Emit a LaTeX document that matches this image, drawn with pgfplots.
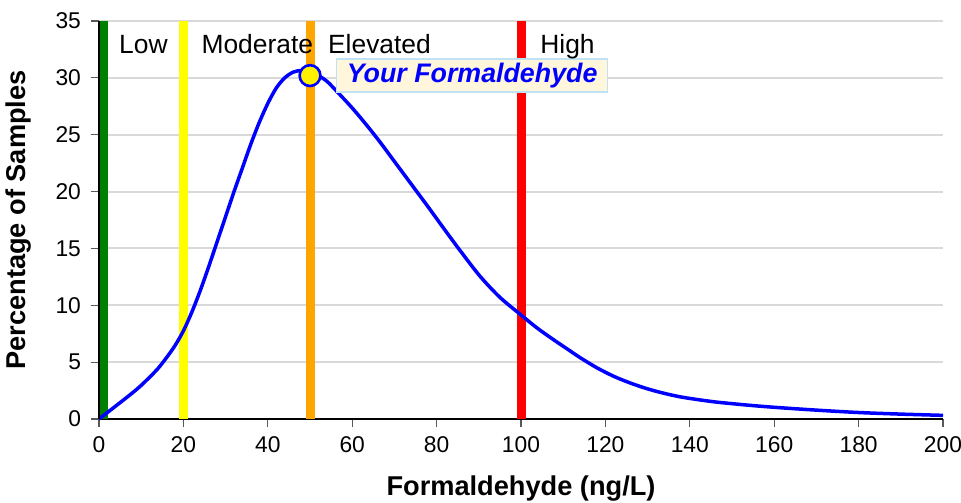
\documentclass[border=0pt]{standalone}
\usepackage{fontspec}
\setmainfont{Liberation Sans}
\usepackage{pgfplots}
\pgfplotsset{compat=1.18}
\definecolor{gridgray}{HTML}{D9D9D9}
\definecolor{lowgreen}{HTML}{008000}
\definecolor{modyellow}{HTML}{FFFF00}
\definecolor{elevorange}{HTML}{FFA500}
\definecolor{highred}{HTML}{FF0000}
\definecolor{curveblue}{HTML}{0000FF}
\definecolor{boxfill}{HTML}{FFF6DC}
\definecolor{boxdraw}{HTML}{BFE3F5}
\begin{document}
\begin{tikzpicture}
\begin{axis}[
  name=ax,
  scale only axis, width=422pt, height=199pt,
  xmin=0, xmax=200, ymin=0, ymax=35,
  xtick={0,20,...,200}, ytick={0,5,...,35},
  axis lines*=left,
  ymajorgrids,
  major grid style={gridgray, line width=1pt},
  tick align=outside, major tick length=4pt,
  tick style={color=black!65, line width=0.6pt},
  axis line style={black, line width=1pt},
  ticklabel style={font=\fontsize{11.4}{13}\selectfont},
  /pgf/number format/assume math mode=true,
  xticklabel style={yshift=-1.5pt},
  yticklabel style={xshift=-1.5pt},
  xlabel={Formaldehyde (ng/L)},
  ylabel={Percentage of Samples},
  xlabel style={at={(axis description cs:0.5,0)}, anchor=north, yshift=-28pt, inner sep=0pt, font=\fontsize{13.6}{16}\selectfont\bfseries},
  ylabel style={at={(axis description cs:-0.0794,0.5)}, anchor=south, inner sep=0pt, font=\fontsize{13.6}{16}\selectfont\bfseries},
  clip=false,
]
\addplot[lowgreen, line width=4.5pt] coordinates {(1,0) (1,35)};
\addplot[modyellow, line width=4.5pt] coordinates {(20,0) (20,35)};
\addplot[elevorange, line width=4.5pt] coordinates {(50,0) (50,35)};
\addplot[highred, line width=4.5pt] coordinates {(100,0) (100,35)};
\addplot[curveblue, line width=1.75pt, smooth, tension=0.5] coordinates {
(0,0) (4,1.15) (8,2.32) (10,2.96) (12,3.68) (14,4.45) (16,5.4) (18,6.45) (20,7.75)
(22,9.4) (24,11.3) (26,13.4) (28,15.6) (30,17.8) (32,20.0) (34,22.1) (36,24.2)
(38,26.1) (40,27.75) (42,29.1) (44,30.0) (46,30.5) (48,30.65) (50,30.5) (52,30.2)
(54,29.7) (56,28.95) (60,27.35) (63.4,25.85) (66.6,24.35) (70,22.65) (74.5,20.4)
(78,18.65) (82.4,16.4) (86,14.6) (90.3,12.55) (95,10.7) (100,9.15) (104,7.95)
(108,6.9) (111,6.15) (114,5.4) (118,4.5) (122,3.75) (126,3.15) (130,2.65)
(134,2.25) (138,1.93) (142,1.7) (146,1.5) (150,1.35) (154,1.21) (160,1.03)
(170,0.78) (180,0.57) (190,0.43) (200,0.32)
};
\addplot[only marks, mark=*, mark size=5.2pt, mark options={fill=yellow, draw=curveblue, line width=1.3pt}] coordinates {(50,30.2)};
\draw[black, line width=1pt] (rel axis cs:0,0) -- (rel axis cs:0,1);
\node[anchor=west, fill=boxfill, draw=boxdraw, line width=0.6pt, inner xsep=5pt, inner ysep=2pt, text=curveblue, font=\fontsize{13.4}{15}\selectfont\bfseries\itshape] at (axis cs:56.2,30.2) {Your Formaldehyde};
\node[anchor=base west, inner sep=0pt, font=\fontsize{13.2}{15}\selectfont] at (axis cs:4.7,32.15) {Low};
\node[anchor=base west, inner sep=0pt, font=\fontsize{13.2}{15}\selectfont] at (axis cs:24.2,32.15) {Moderate};
\node[anchor=base west, inner sep=0pt, font=\fontsize{13.2}{15}\selectfont] at (axis cs:54.2,32.15) {Elevated};
\node[anchor=base west, inner sep=0pt, font=\fontsize{13.2}{15}\selectfont] at (axis cs:104.5,32.15) {High};
\end{axis}
\pgfresetboundingbox
\path[use as bounding box] ([xshift=-49.5pt,yshift=-41.5pt]ax.south west) rectangle ([xshift=9pt,yshift=10.5pt]ax.north east);
\end{tikzpicture}
\end{document}
